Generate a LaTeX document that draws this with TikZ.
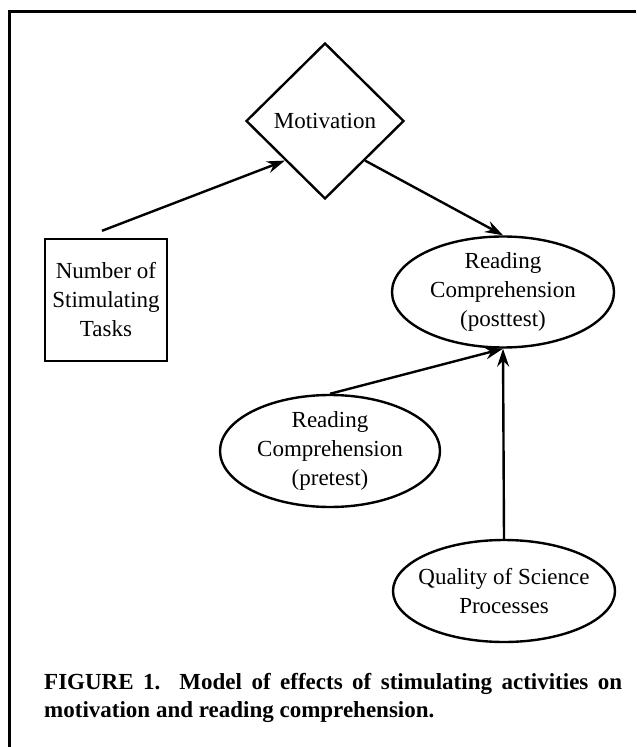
\documentclass[tikz,border=0pt]{standalone}
\usepackage{fontspec}
\setmainfont{Liberation Serif}
\usetikzlibrary{shapes.geometric,arrows.meta}
\hyphenpenalty=10000
\tolerance=10000

\begin{document}
\begin{tikzpicture}[x=0.5pt, y=-0.5pt, line width=1.2pt, every node/.style = {align=center, font=\fontsize{11.5}{14.5}\selectfont}, oval/.style = {draw, ellipse, inner xsep=-8pt, inner ysep=-2pt, minimum width=111pt}, arr/.style = {-{Stealth[length=9pt, width=6pt]}}]
    \useasboundingbox (0,0) rectangle (636,747);
    \draw[line width=1.5pt] (636,12) -- (9,12) -- (9,747);
    \node[draw, diamond, inner sep=0pt, minimum width=79pt, minimum height=78pt] (motiv) at (325,121) {Motivation};
    \node[draw, rectangle, inner sep=1pt, minimum width=61pt, minimum height=61pt] (tasks) at (106,300) {Number of\\Stimulating\\Tasks};
    \node[oval, minimum height=55.5pt] (post) at (503,292) {Reading\\Comprehension\\(posttest)};
    \node[oval, minimum width=110pt, minimum height=56pt] (pre) at (330,451) {Reading\\Comprehension\\(pretest)};
    \node[oval, minimum height=51pt] (qual) at (504,591) {Quality of Science\\Processes};
    \node[anchor=north west, inner sep=0pt, text width=289pt, align=justify, font=\fontsize{11.5}{14}\selectfont\bfseries] (caption) at (43,672) {\noindent FIGURE 1.\ \ Model of effects of stimulating activities on motivation and reading comprehension.};
    \coordinate (tstart) at ([xshift=-2pt, yshift=3.5pt]tasks.north);
    \draw[arr] (tstart) -- (motiv.south west);
    \draw[arr] (motiv.south east) -- (post.north);
    \draw[arr] (pre.north) -- (post.south);
    \draw[arr] (qual.north) -- (post.south);
\end{tikzpicture}
\end{document}
